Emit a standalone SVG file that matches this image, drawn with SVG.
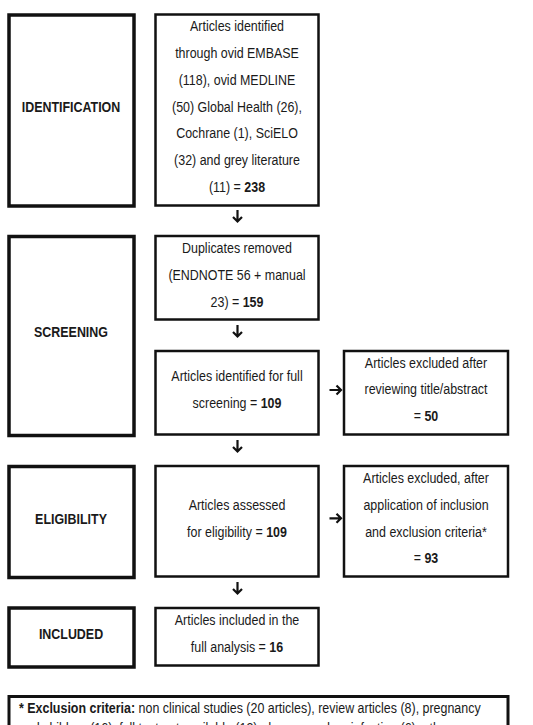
<svg xmlns="http://www.w3.org/2000/svg" width="533" height="725" viewBox="0 0 533 725">
<style>
.stage{fill:#fff;stroke:#111;stroke-width:3.5}
.box{fill:#fff;stroke:#111;stroke-width:2.5}
text{font-family:"Liberation Sans",Arial,sans-serif;font-size:15px;fill:#1a1a1a;text-anchor:middle}
.b{font-weight:bold}
.arr{fill:none;stroke:#111;stroke-width:2.2;stroke-linecap:butt;stroke-linejoin:miter}
</style>
<rect width="533" height="725" fill="#fff"/>
<g id="identification">
<rect class="stage" x="9" y="15" width="125" height="191"/>
<text class="b" transform="translate(71,112) scale(0.83,1)">IDENTIFICATION</text>
</g>
<g id="screening">
<rect class="stage" x="9" y="236.5" width="125" height="199"/>
<text class="b" transform="translate(71,337) scale(0.83,1)">SCREENING</text>
</g>
<g id="eligibility">
<rect class="stage" x="9" y="466.5" width="125" height="111"/>
<text class="b" transform="translate(71,523.5) scale(0.83,1)">ELIGIBILITY</text>
</g>
<g id="included">
<rect class="stage" x="9" y="608" width="125" height="59"/>
<text class="b" transform="translate(71,638.5) scale(0.83,1)">INCLUDED</text>
</g>
<g id="identified">
<rect class="box" x="155.5" y="14.5" width="163" height="191"/>
<text transform="translate(237,31) scale(0.83,1)">Articles identified</text>
<text transform="translate(237,58.3) scale(0.83,1)">through ovid EMBASE</text>
<text transform="translate(237,85) scale(0.83,1)">(118), ovid MEDLINE</text>
<text transform="translate(237,111.7) scale(0.83,1)">(50) Global Health (26),</text>
<text transform="translate(237,138.3) scale(0.83,1)">Cochrane (1), SciELO</text>
<text transform="translate(237,165) scale(0.83,1)">(32) and grey literature</text>
<text transform="translate(237,191.7) scale(0.83,1)">(11) = <tspan class="b">238</tspan></text>
</g>
<g id="duplicates">
<rect class="box" x="155.5" y="236" width="163" height="83.5"/>
<text transform="translate(237,253.3) scale(0.83,1)">Duplicates removed</text>
<text transform="translate(237,280) scale(0.83,1)">(ENDNOTE 56 + manual</text>
<text transform="translate(237,306.7) scale(0.83,1)">23) = <tspan class="b">159</tspan></text>
</g>
<g id="fullscreen">
<rect class="box" x="155.5" y="351" width="163" height="83.5"/>
<text transform="translate(237,381) scale(0.83,1)">Articles identified for full</text>
<text transform="translate(237,407.7) scale(0.83,1)">screening = <tspan class="b">109</tspan></text>
</g>
<g id="excluded1">
<rect class="box" x="344" y="351" width="164" height="83.5"/>
<text transform="translate(426,367.7) scale(0.83,1)">Articles excluded after</text>
<text transform="translate(426,394.3) scale(0.83,1)">reviewing title/abstract</text>
<text transform="translate(426,421) scale(0.83,1)">= <tspan class="b">50</tspan></text>
</g>
<g id="assessed">
<rect class="box" x="155.5" y="466" width="163" height="110.5"/>
<text transform="translate(237,510) scale(0.83,1)">Articles assessed</text>
<text transform="translate(237,536.7) scale(0.83,1)">for eligibility = <tspan class="b">109</tspan></text>
</g>
<g id="excluded2">
<rect class="box" x="344" y="466" width="164" height="110.5"/>
<text transform="translate(426,483.3) scale(0.83,1)">Articles excluded, after</text>
<text transform="translate(426,510) scale(0.83,1)">application of inclusion</text>
<text transform="translate(426,536.7) scale(0.83,1)">and exclusion criteria*</text>
<text transform="translate(426,563.3) scale(0.83,1)">= <tspan class="b">93</tspan></text>
</g>
<g id="includedbox">
<rect class="box" x="155.5" y="608" width="163" height="57.5"/>
<text transform="translate(237,625) scale(0.83,1)">Articles included in the</text>
<text transform="translate(237,651.7) scale(0.83,1)">full analysis = <tspan class="b">16</tspan></text>
</g>
<g id="criteria">
<rect x="9" y="696.5" width="499" height="60" fill="#fff" stroke="#111" stroke-width="3"/>
<text style="text-anchor:start" transform="translate(19,712.5) scale(0.83,1)"><tspan class="b">* Exclusion criteria:</tspan>  non clinical studies (20 articles), review articles (8), pregnancy</text>
<text style="text-anchor:start" transform="translate(19,733) scale(0.83,1)">and children (16), full text not available (13), dengue and co-infection (6), other</text>
</g>
<g id="connectors">
<path class="arr" d="M237.5,210 V221.5 M233,217 L237.5,221.5 L242,217"/>
<path class="arr" d="M237.5,325 V336.5 M233,332 L237.5,336.5 L242,332"/>
<path class="arr" d="M237.5,440 V451.5 M233,447 L237.5,451.5 L242,447"/>
<path class="arr" d="M237.5,582 V593.5 M233,589 L237.5,593.5 L242,589"/>
<path class="arr" d="M329.5,390 H341 M336.5,385.5 L341,390 L336.5,394.5"/>
<path class="arr" d="M329.5,518.3 H341 M336.5,513.8 L341,518.3 L336.5,522.8"/>
</g>
</svg>
